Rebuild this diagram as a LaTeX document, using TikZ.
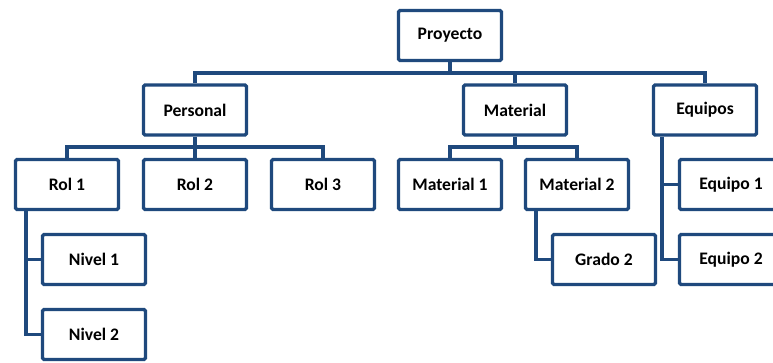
\documentclass[tikz,border=0pt]{standalone}
\usepackage{fontspec}
\setmainfont{Carlito}
\definecolor{frame}{RGB}{31,73,125}
\tikzset{
  box/.style={draw=frame, line width=3.2pt, rounded corners=1.5pt, fill=white,
    minimum width=103pt, minimum height=50pt, inner sep=0pt,
    font=\fontsize{17.6}{20}\selectfont\bfseries, text=black},
  link/.style={draw=frame, line width=3.2pt}
}
\begin{document}
\begin{tikzpicture}[x=1pt, y=-1pt]
\useasboundingbox[fill=white] (0,0) rectangle (773,363);
% top level
\node[box] (proy) at (450,35.5) {Proyecto};
% second level
\node[box] (pers) at (195,110) {Personal};
\node[box] (mat)  at (515,110) {Material};
\node[box] (equi) at (705,110) {Equipos};
% third level
\node[box] (rol1) at (67,184.5)  {Rol 1};
\node[box] (rol2) at (195,184.5) {Rol 2};
\node[box] (rol3) at (323,184.5) {Rol 3};
\node[box] (mat1) at (450,184.5) {Material 1};
\node[box] (mat2) at (577,184.5) {Material 2};
\node[box] (eq1)  at (731,184.5) {Equipo 1};
% fourth level
\node[box] (niv1) at (94,259.5)  {Nivel 1};
\node[box] (niv2) at (94,334.5)  {Nivel 2};
\node[box] (gra2) at (604,259.5) {Grado 2};
\node[box] (eq2)  at (731,259.5) {Equipo 2};
% horizontal bus lines
\coordinate (bus1) at (0,73);
\coordinate (bus2) at (0,147);
% Proyecto to its children
\draw[link] (proy.south) -- (proy.south |- bus1);
\draw[link] (pers.north) -- (pers.north |- bus1) -- (equi.north |- bus1) -- (equi.north);
\draw[link] (mat.north) -- (mat.north |- bus1);
% Personal to roles
\draw[link] (pers.south) -- (pers.south |- bus2);
\draw[link] (rol1.north) -- (rol1.north |- bus2) -- (rol3.north |- bus2) -- (rol3.north);
\draw[link] (rol2.north) -- (rol2.north |- bus2);
% Material to items
\draw[link] (mat.south) -- (mat.south |- bus2);
\draw[link] (mat1.north) -- (mat1.north |- bus2) -- (mat2.north |- bus2) -- (mat2.north);
% side branches
\coordinate (r1a) at ([xshift=12pt]rol1.south west);
\draw[link] (r1a) |- (niv2.west);
\draw[link] (r1a |- niv1.west) -- (niv1.west);
\coordinate (m2a) at ([xshift=12pt]mat2.south west);
\draw[link] (m2a) |- (gra2.west);
\coordinate (eqa) at ([xshift=10pt]equi.south west);
\draw[link] (eqa) |- (eq2.west);
\draw[link] (eqa |- eq1.west) -- (eq1.west);
\end{tikzpicture}
\end{document}
